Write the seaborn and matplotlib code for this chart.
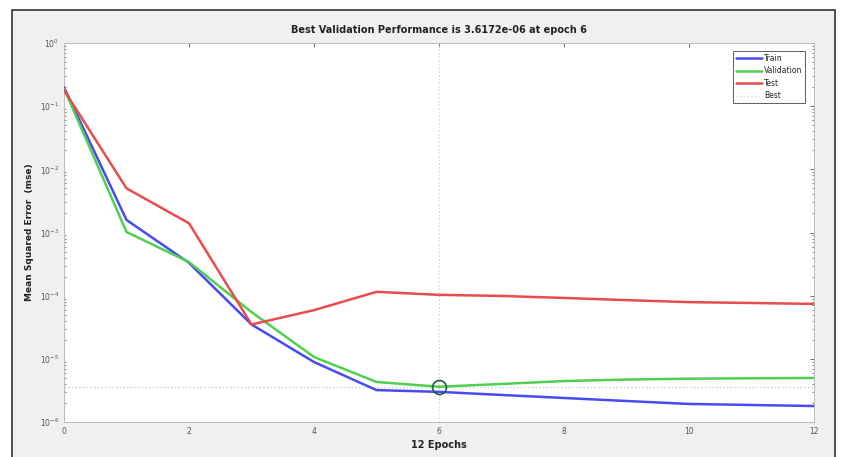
import numpy as np
import pandas as pd
import matplotlib
matplotlib.use("Agg")
import matplotlib.pyplot as plt
from matplotlib.patches import Rectangle
from matplotlib.lines import Line2D
import seaborn as sns

epochs = list(range(13))
train_mse = [0.20, 1.58e-3, 3.3e-4, 3.5e-5, 8.9e-6, 3.2e-6, 3.0e-6,
             2.68e-6, 2.40e-6, 2.15e-6, 1.93e-6, 1.86e-6, 1.79e-6]
val_mse = [0.19, 1.02e-3, 3.4e-4, 5.5e-5, 1.07e-5, 4.3e-6, 3.6172e-6,
           4.0e-6, 4.45e-6, 4.7e-6, 4.85e-6, 4.92e-6, 4.98e-6]
test_mse = [0.18, 5.0e-3, 1.4e-3, 3.5e-5, 5.9e-5, 1.15e-4, 1.03e-4,
            9.9e-5, 9.2e-5, 8.5e-5, 7.9e-5, 7.66e-5, 7.4e-5]
series_names = ["Train", "Validation", "Test"]
best_epoch = 6
best_value = 3.6172e-06
x_ticks = [0, 2, 4, 6, 8, 10, 12]

df = pd.DataFrame({
    "epoch": epochs * 3,
    "mse": train_mse + val_mse + test_mse,
    "series": [series_names[0]] * 13 + [series_names[1]] * 13 + [series_names[2]] * 13,
})

sns.set_theme(style="white")
plt.rcParams["font.family"] = ["DejaVu Sans"]

fig = plt.figure(figsize=(8.48, 4.57), dpi=100)
fig.patch.set_facecolor("white")
frame = Rectangle((12 / 848, -0.01), (835 - 12) / 848, 1 - 10 / 457 + 0.01,
                  transform=fig.transFigure, facecolor="#f0f0f0",
                  edgecolor="#333333", linewidth=1.2, zorder=-10)
fig.patches.append(frame)

ax = fig.add_axes([64 / 848, 1 - 422 / 457, (814 - 64) / 848, (422 - 43) / 457])
ax.set_zorder(5)
ax.set_facecolor("white")

palette = {"Train": "#4a4af2", "Validation": "#4fd14f", "Test": "#ea4c4c"}
ax.set_yscale("log")

# best lines
ax.axhline(best_value, color="#d0d0d0", linestyle=":", linewidth=1.0, zorder=1)
ax.axvline(best_epoch, color="#d0d0d0", linestyle=":", linewidth=1.0, zorder=1)

sns.lineplot(data=df, x="epoch", y="mse", hue="series", hue_order=series_names,
             palette=palette, linewidth=1.8, ax=ax, legend=False, zorder=3)

ax.plot([best_epoch], [best_value], marker="o", markersize=10,
        markerfacecolor="none", markeredgecolor="#1f5f3f", markeredgewidth=1.2,
        linestyle="none", zorder=4)

ax.set_xlim(0, 12)
ax.set_ylim(1e-6, 1e0)
ax.set_xticks(x_ticks)
ax.set_xticklabels([str(t) for t in x_ticks])
ax.tick_params(axis="both", which="both", direction="in", colors="#555555",
               labelsize=5.5, top=True, right=True)
ax.tick_params(axis="both", which="major", length=3, width=0.6)
ax.tick_params(axis="y", which="minor", length=1.5, width=0.5, left=True, right=True)
for s in ax.spines.values():
    s.set_color("#bbbbbb")
    s.set_linewidth(0.7)

ax.set_title("Best Validation Performance is 3.6172e-06 at epoch 6",
             fontsize=7, fontweight="bold", color="#222222", pad=7)
ax.set_xlabel("12 Epochs", fontsize=7, fontweight="bold", color="#222222", labelpad=3)
ax.set_ylabel("Mean Squared Error  (mse)", fontsize=6.5, fontweight="bold",
              color="#222222", labelpad=4)

handles = [Line2D([0], [0], color=palette[n], linewidth=1.8) for n in series_names]
handles.append(Line2D([0], [0], color="#bfe8bf", linestyle=":", linewidth=1.0))
leg = ax.legend(handles, series_names + ["Best"], loc="upper right",
                fontsize=5.5, frameon=True, fancybox=False, handlelength=3.4,
                borderpad=0.35, labelspacing=0.45, handletextpad=0.3,
                bbox_to_anchor=(0.993, 0.988))
leg.get_frame().set_edgecolor("#333333")
leg.get_frame().set_linewidth(0.7)

fig.savefig("out.png", dpi=100, facecolor=fig.get_facecolor())
